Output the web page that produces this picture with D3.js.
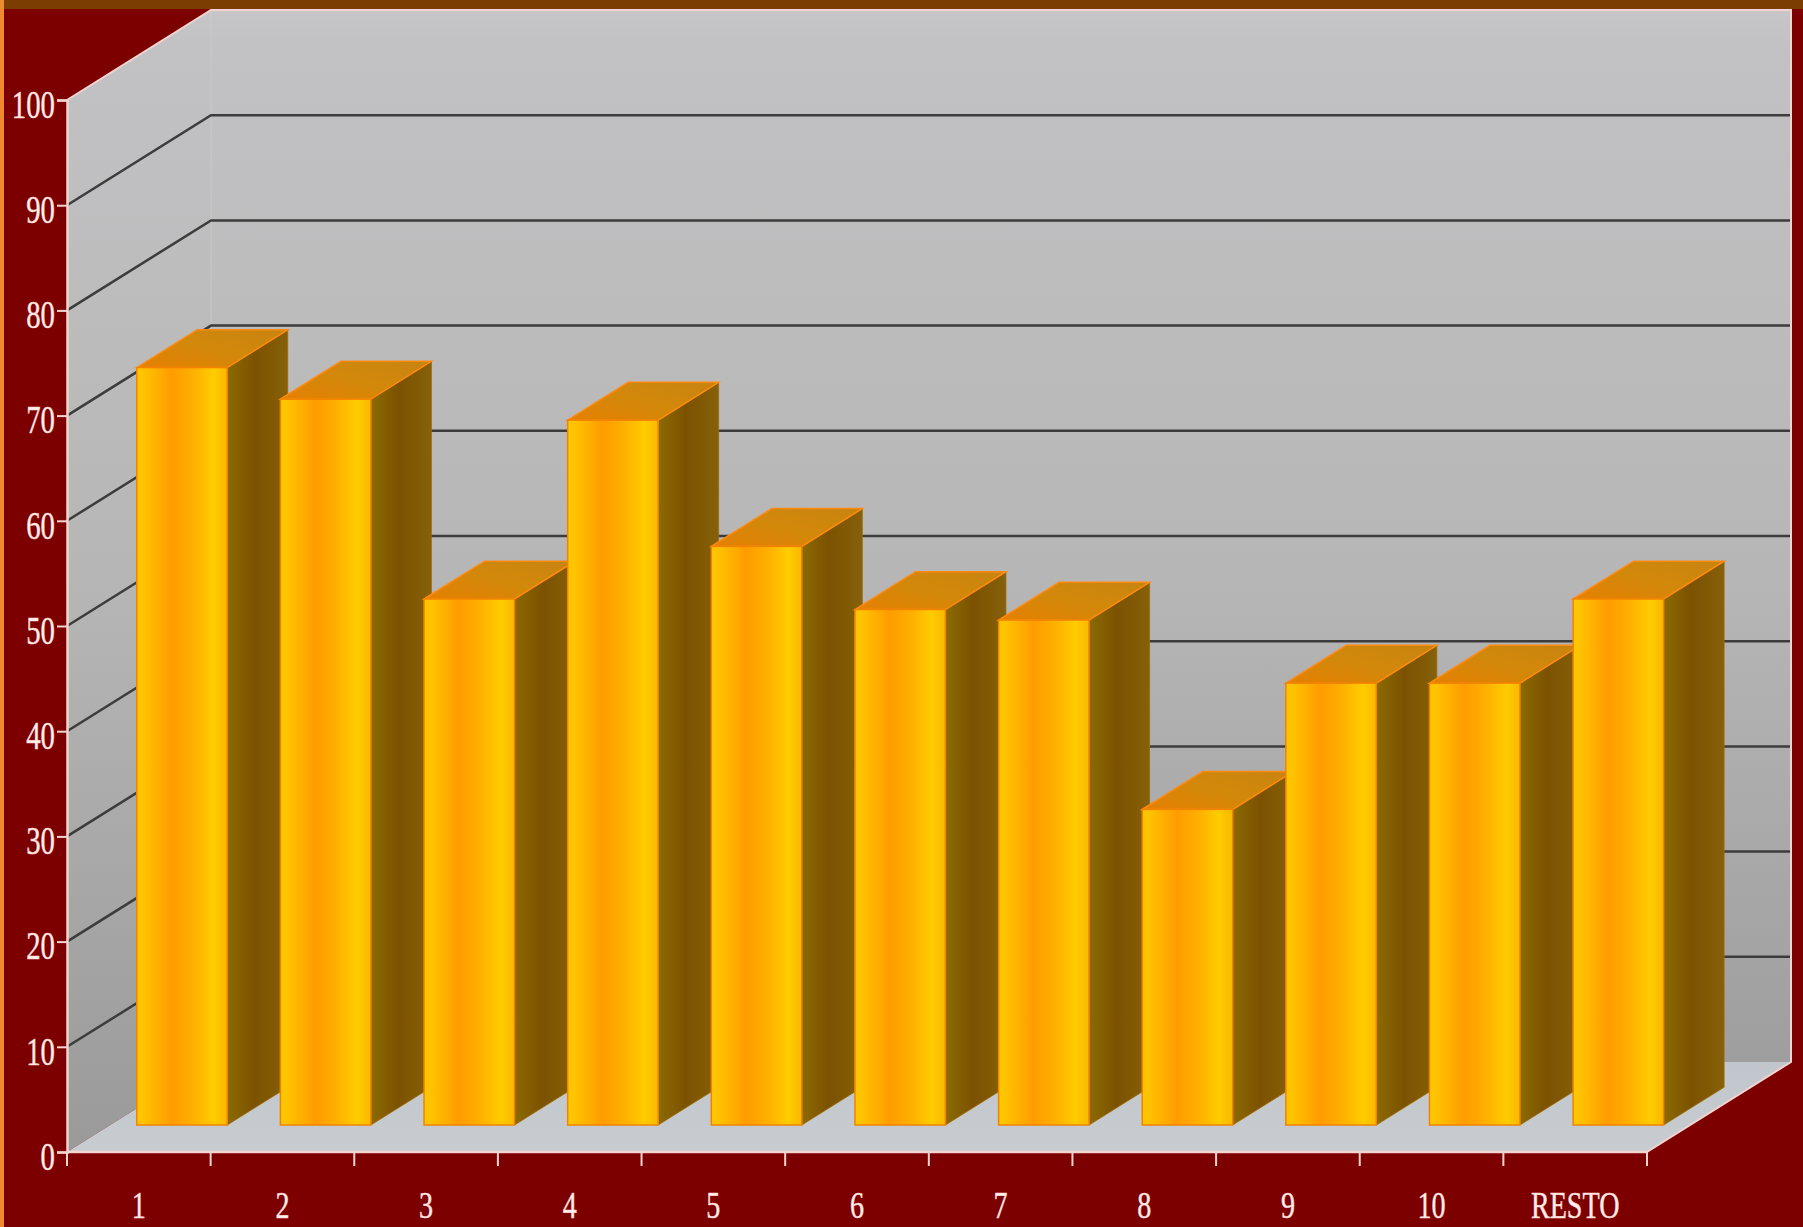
<!DOCTYPE html>
<html>
<head>
<meta charset="utf-8">
<script src="https://cdn.jsdelivr.net/npm/d3@7"></script>
<style>
  html, body { margin: 0; padding: 0; background: #7d0000; overflow: hidden; }
  svg { display: block; }
</style>
</head>
<body>
<svg id="chart" width="1803" height="1227"></svg>
<script>
// ---- data ----
const categories = ["1", "2", "3", "4", "5", "6", "7", "8", "9", "10", "RESTO"];
const values = [72, 69, 50, 67, 55, 49, 48, 30, 42, 42, 50];
const yTicks = [0, 10, 20, 30, 40, 50, 60, 70, 80, 90, 100];
const gridValues = [10, 20, 30, 40, 50, 60, 70, 80, 90];

// ---- layout ----
const W = 1803, H = 1227;
const X0 = 67, X1 = 1647, Y0 = 1152, Y1 = 100;
const DX = 144, DY = -90;       // full depth vector
const Z0 = 0.3, Z1 = 0.72;      // bar depth range

const svg = d3.select("#chart");
const x = d3.scaleBand().domain(categories).range([X0, X1]).paddingInner(0.37).paddingOuter(0.185);
const xb = d3.scaleBand().domain(categories).range([X0, X1]);
const y = d3.scaleLinear().domain([0, 100]).range([Y0, Y1]);

const P = (px, py, z) => [px + z * DX, py + z * DY];
const poly = pts => pts.map(p => p.join(",")).join(" ");

// ---- defs ----
const defs = svg.append("defs");
function lg(id, x1, y1, x2, y2, stops, units) {
  const g = defs.append("linearGradient").attr("id", id)
    .attr("x1", x1).attr("y1", y1).attr("x2", x2).attr("y2", y2);
  if (units) g.attr("gradientUnits", units);
  stops.forEach(s => g.append("stop").attr("offset", s[0]).attr("stop-color", s[1]));
}
lg("wallGrad", 0, 10, 0, 1152, [[0, "#c6c6c8"], [0.03, "#c2c2c4"], [0.5, "#b6b6b6"], [1, "#9a9a9a"]], "userSpaceOnUse");
lg("floorGrad", 0, 1062, 0, 1152, [[0, "#c0c6cc"], [1, "#c8ccd0"]], "userSpaceOnUse");
lg("frontGrad", 0, 0, 1, 0, [[0, "#ffc800"], [0.1, "#ffc000"], [0.38, "#ff9c00"], [0.6, "#ffad00"], [0.85, "#ffcc00"], [1, "#f8b800"]]);
lg("sideGrad", 0, 0, 1, 0, [[0, "#8c6a00"], [0.45, "#7c5200"], [1, "#86600a"]]);
lg("topGrad", 0, 1, 1, 0, [[0, "#e58000"], [0.5, "#d2880a"], [1, "#c88410"]]);

// ---- frame ----
svg.append("rect").attr("x", 0).attr("y", 0).attr("width", W).attr("height", H).attr("fill", "#7d0000");
svg.append("rect").attr("x", 0).attr("y", 0).attr("width", W).attr("height", 9).attr("fill", "#7c3e00");
svg.append("rect").attr("x", 0).attr("y", 0).attr("width", 4).attr("height", H).attr("fill", "#f08a30");

// ---- walls ----
const backWall = [P(X0, Y1, 1), P(X1, Y1, 1), P(X1, Y0, 1), P(X0, Y0, 1)];
const leftWall = [P(X0, Y1, 0), P(X0, Y1, 1), P(X0, Y0, 1), P(X0, Y0, 0)];
const floor = [P(X0, Y0, 0), P(X1, Y0, 0), P(X1, Y0, 1), P(X0, Y0, 1)];
svg.append("polygon").attr("points", poly(backWall)).attr("fill", "url(#wallGrad)");
svg.append("polygon").attr("points", poly(leftWall)).attr("fill", "url(#wallGrad)");
svg.append("polygon").attr("points", poly(floor)).attr("fill", "url(#floorGrad)");

// corner line
svg.append("line").attr("x1", P(X0, Y1, 1)[0]).attr("y1", P(X0, Y1, 1)[1])
  .attr("x2", P(X0, Y0, 1)[0]).attr("y2", P(X0, Y0, 1)[1])
  .attr("stroke", "#d0d0d0").attr("stroke-width", 1).attr("opacity", 0.6);

// gridlines
const grid = svg.append("g");
gridValues.forEach(v => {
  const a = P(X0, y(v), 0), b = P(X0, y(v), 1), c = P(X1, y(v), 1);
  grid.append("polyline").attr("points", poly([a, b, c]))
    .attr("fill", "none").attr("stroke", "#3c3c3c").attr("stroke-width", 2.5);
});

// light edges
const edgeColor = "#f4d4d0";
svg.append("polyline").attr("points", poly([P(X0, Y1, 0), P(X0, Y1, 1), P(X1, Y1, 1), P(X1, Y0, 1), P(X1, Y0, 0)]))
  .attr("fill", "none").attr("stroke", edgeColor).attr("stroke-width", 2);

// ---- bars ----
const bars = svg.append("g");
categories.forEach((c, i) => {
  const v = values[i];
  const l = x(c), r = x(c) + x.bandwidth();
  const yt = y(v), yb = y(0);
  const g = bars.append("g");
  // side face
  g.append("polygon").attr("points", poly([P(r, yt, Z0), P(r, yt, Z1), P(r, yb, Z1), P(r, yb, Z0)]))
    .attr("fill", "url(#sideGrad)").attr("stroke", "#a06a00").attr("stroke-width", 0.8);
  // top face
  g.append("polygon").attr("points", poly([P(l, yt, Z0), P(l, yt, Z1), P(r, yt, Z1), P(r, yt, Z0)]))
    .attr("fill", "url(#topGrad)").attr("stroke", "#ff8a10").attr("stroke-width", 1.5);
  // front face
  const f0 = P(l, yt, Z0), f1 = P(r, yb, Z0);
  g.append("rect").attr("x", f0[0]).attr("y", f0[1]).attr("width", f1[0] - f0[0]).attr("height", f1[1] - f0[1])
    .attr("fill", "url(#frontGrad)").attr("stroke", "#f28200").attr("stroke-width", 1.5);
});

// ---- axes ----
const labelFill = "#fff0ee";
const SX = 0.72;

// y axis
const yAxis = svg.append("g").attr("transform", `translate(${X0},0)`)
  .call(d3.axisLeft(y).tickValues(yTicks).tickSize(10).tickPadding(0).tickFormat(d3.format("d")));
yAxis.select(".domain").attr("stroke", edgeColor).attr("stroke-width", 2.5);
yAxis.selectAll(".tick line").attr("stroke", edgeColor).attr("stroke-width", 2);
yAxis.selectAll(".tick text")
  .attr("x", -12 / SX).attr("dy", "0.43em")
  .attr("transform", `scale(${SX},1)`)
  .attr("fill", labelFill).attr("stroke", "#ffd0cc").attr("stroke-width", 0.5)
  .style("font-family", "'Liberation Serif', 'DejaVu Serif', serif").style("font-size", "40px");

// x axis (labels at category centres)
const xAxis = svg.append("g").attr("transform", `translate(0,${Y0})`)
  .call(d3.axisBottom(xb).tickSize(0).tickPadding(0));
xAxis.select(".domain").remove();
xAxis.selectAll(".tick text")
  .attr("x", 0).attr("y", 66).attr("dy", 0)
  .attr("transform", `scale(${SX + 0.02},1)`)
  .attr("fill", labelFill).attr("stroke", "#ffd0cc").attr("stroke-width", 0.5)
  .style("font-family", "'Liberation Serif', 'DejaVu Serif', serif").style("font-size", "38px");

// x axis line and boundary ticks
const bounds = categories.map(c => xb(c)).concat([X1]);
svg.append("line").attr("x1", X0).attr("x2", X1).attr("y1", Y0).attr("y2", Y0)
  .attr("stroke", edgeColor).attr("stroke-width", 2.5);
svg.append("g").selectAll("line").data(bounds).join("line")
  .attr("x1", d => d).attr("x2", d => d).attr("y1", Y0).attr("y2", Y0 + 14)
  .attr("stroke", edgeColor).attr("stroke-width", 2);
</script>
</body>
</html>
